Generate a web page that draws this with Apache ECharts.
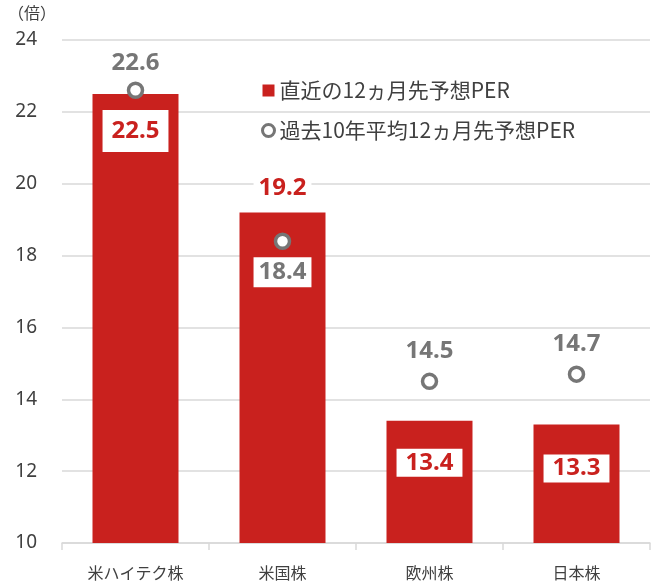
<!DOCTYPE html>
<html><head><meta charset="utf-8">
<script src="https://cdn.jsdelivr.net/npm/echarts@6/dist/echarts.min.js"></script>
<style>html,body{margin:0;padding:0;background:#fff}#c{width:661px;height:585px}</style>
</head><body><div id="c"></div>
<script>
const categories = ['米ハイテク株', '米国株', '欧州株', '日本株'];
const currentPER = [22.5, 19.2, 13.4, 13.3];
const avgPER = [22.6, 18.4, 14.5, 14.7];
const yTicks = [10, 12, 14, 16, 18, 20, 22, 24];
const seriesNames = ['直近の12ヵ月先予想PER', '過去10年平均12ヵ月先予想PER'];

const RED = '#C9211E', GRAY = '#767676', TXT = '#404040';
const NUMFONT = '"Noto Sans", sans-serif';
const CJK = '"Noto Sans CJK JP", "Noto Sans", sans-serif';

// label layout per point (styles only)
const barLabelCfg = [
  {position: 'insideTop', distance: 16, padding: [9, 9], backgroundColor: '#fff'},
  {position: 'top', distance: 11, padding: [1, 5], backgroundColor: '#fff'},
  {position: 'insideTop', distance: 28, padding: [2, 9], backgroundColor: '#fff'},
  {position: 'insideTop', distance: 30, padding: [2, 9], backgroundColor: '#fff'}
];
const avgLabelCfg = [
  {position: 'inside', offset: [0, -27]},
  {position: 'inside', offset: [0, 31], padding: [3, 5], backgroundColor: '#fff'},
  {position: 'inside', offset: [0, -30]},
  {position: 'inside', offset: [0, -30]}
];

const chart = echarts.init(document.getElementById('c'), null, {renderer: 'canvas'});
chart.setOption({
  animation: false,
  backgroundColor: '#fff',
  grid: {left: 62, right: 11, top: 40, bottom: 42},
  graphic: [{type: 'text', left: 8, top: 5, style: {text: '（倍）', font: '16px ' + CJK, fill: TXT}}],
  legend: {
    orient: 'vertical', left: 256, top: 75, itemWidth: 12, itemHeight: 12, itemGap: 19,
    textStyle: {fontFamily: CJK, fontSize: 21, color: TXT},
    data: [
      {name: seriesNames[0], icon: 'rect', itemStyle: {color: RED}},
      {name: seriesNames[1], icon: 'circle', itemStyle: {color: '#fff', borderColor: GRAY, borderWidth: 3}}
    ]
  },
  xAxis: {
    type: 'category', data: categories,
    axisLine: {lineStyle: {color: '#d9d9d9', width: 1.5}},
    axisTick: {show: true, length: 7, lineStyle: {color: '#d9d9d9', width: 1.5}},
    axisLabel: {fontFamily: CJK, fontSize: 16, color: TXT, margin: 22}
  },
  yAxis: {
    type: 'value', min: yTicks[0], max: yTicks[yTicks.length - 1], interval: 2,
    axisLine: {show: false}, axisTick: {show: false},
    splitLine: {lineStyle: {color: '#d9d9d9', width: 1.5}},
    axisLabel: {fontFamily: NUMFONT, fontSize: 19, color: TXT, margin: 25}
  },
  series: [
    {
      name: seriesNames[0], type: 'bar', barWidth: '58.5%', z: 2,
      itemStyle: {color: RED},
      data: currentPER.map((v, i) => ({
        value: v,
        label: Object.assign({show: true, color: RED, fontFamily: NUMFONT, fontSize: 24, fontWeight: 'bold', lineHeight: 24}, barLabelCfg[i])
      }))
    },
    {
      name: seriesNames[1], type: 'scatter', symbol: 'circle', symbolSize: 14, z: 5,
      itemStyle: {color: '#fff', borderColor: GRAY, borderWidth: 3.5, opacity: 1},
      data: avgPER.map((v, i) => ({
        value: [i, v],
        label: Object.assign({show: true, color: GRAY, fontFamily: NUMFONT, fontSize: 24, fontWeight: 'bold', lineHeight: 24, formatter: p => p.value[1].toFixed(1)}, avgLabelCfg[i])
      }))
    }
  ]
});
</script></body></html>
